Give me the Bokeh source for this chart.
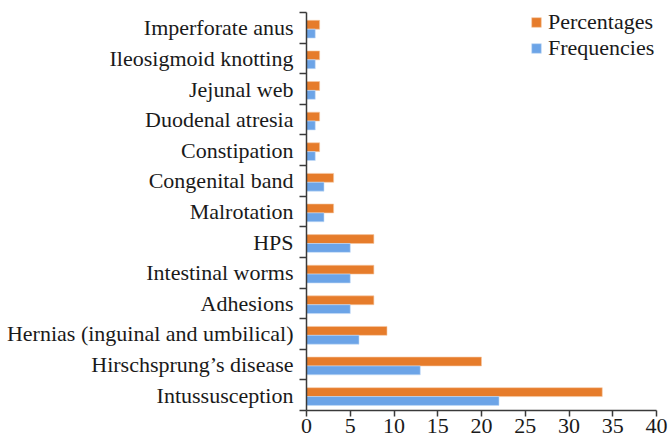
from bokeh.plotting import figure
from bokeh.models import ColumnDataSource, FixedTicker, Legend, LegendItem, Range1d
from bokeh.embed import file_html
from bokeh.resources import INLINE

# Data (bottom to top, as displayed)
categories = ["Intussusception", "Hirschsprung\u2019s disease", "Hernias (inguinal and umbilical)",
              "Adhesions", "Intestinal worms", "HPS", "Malrotation", "Congenital band",
              "Constipation", "Duodenal atresia", "Jejunal web", "Ileosigmoid knotting",
              "Imperforate anus"]
frequencies = [22, 13, 6, 5, 5, 5, 2, 2, 1, 1, 1, 1, 1]
percentages = [33.8, 20.0, 9.2, 7.7, 7.7, 7.7, 3.1, 3.1, 1.5, 1.5, 1.5, 1.5, 1.5]
x_ticks = [0, 5, 10, 15, 20, 25, 30, 35, 40]

ORANGE = "#E67C2B"
BLUE = "#6CA4E7"
FONT = "Liberation Serif"
TXT = "#1a1a1a"
AX = "#3a3a3a"

n = len(categories)
idx = list(range(n))
src = ColumnDataSource(dict(
    y=idx,
    y_pct=[i + 0.10 for i in idx],
    y_freq=[i - 0.19 for i in idx],
    pct=percentages,
    freq=frequencies,
))

p = figure(width=669, height=448, output_backend="svg", toolbar_location=None,
           x_range=Range1d(0, 40), y_range=Range1d(-0.5, n - 0.5 + 0.392),
           min_border_left=306, min_border_right=13, min_border_top=0, min_border_bottom=38)
p.outline_line_color = None
p.xgrid.visible = False
p.ygrid.visible = False
p.background_fill_color = "white"

r_pct = p.hbar(y="y_pct", left=0, right="pct", height=0.29, source=src,
               fill_color=ORANGE, line_color="#f6c9a4", line_width=0.6)
r_freq = p.hbar(y="y_freq", left=0, right="freq", height=0.29, source=src,
                fill_color=BLUE, line_color="#c4dbf6", line_width=0.6)

# y axis: labels at band centres, ticks at band boundaries
yax = p.yaxis[0]
yax.bounds = (-0.5, n - 0.5)
yax.ticker = FixedTicker(ticks=idx, minor_ticks=[i - 0.5 for i in range(n + 1)])
yax.major_label_overrides = {i: c for i, c in zip(idx, categories)}
yax.major_tick_line_color = None
yax.minor_tick_out = 7
yax.minor_tick_in = 0
yax.minor_tick_line_color = AX
yax.minor_tick_line_width = 1.5
yax.axis_line_color = AX
yax.axis_line_width = 1.5
yax.major_label_text_font = FONT
yax.major_label_text_font_size = "22px"
yax.major_label_text_color = TXT
yax.major_label_standoff = 6

xax = p.xaxis[0]
xax.ticker = FixedTicker(ticks=x_ticks, minor_ticks=[])
xax.major_tick_out = 6
xax.major_tick_in = 0
xax.major_tick_line_color = AX
xax.major_tick_line_width = 1.5
xax.axis_line_color = AX
xax.axis_line_width = 1.5
xax.major_label_text_font = FONT
xax.major_label_text_font_size = "22px"
xax.major_label_text_color = TXT
xax.major_label_standoff = 2
xax.axis_label_standoff = 0

legend = Legend(items=[LegendItem(label="Percentages", renderers=[r_pct]),
                       LegendItem(label="Frequencies", renderers=[r_freq])],
                location=(224, 349))
legend.border_line_color = None
legend.background_fill_alpha = 0
legend.padding = 0
legend.margin = 0
legend.spacing = 0
legend.glyph_width = 12
legend.glyph_height = 12
legend.label_height = 24
legend.label_standoff = 6
legend.label_text_font = FONT
legend.label_text_font_size = "22px"
legend.label_text_color = TXT
p.add_layout(legend)

open("out.html", "w").write(file_html(p, INLINE))
